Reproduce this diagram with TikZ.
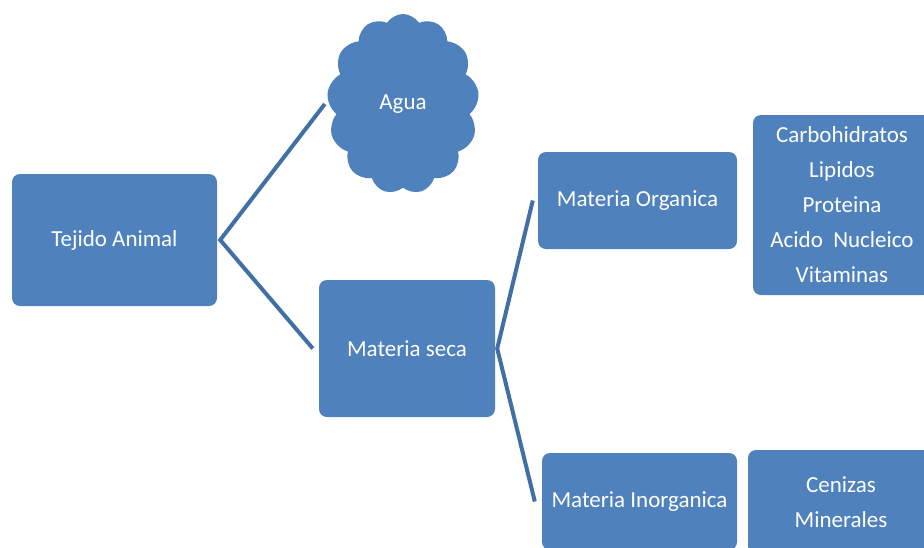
\documentclass[tikz,border=0pt]{standalone}
\usepackage{fontspec}
\setmainfont{Carlito}
\usetikzlibrary{shapes.symbols}
\definecolor{boxblue}{HTML}{4F81BD}
\definecolor{lineblue}{HTML}{416FA6}
\tikzstyle{box} = [rectangle, rounded corners=8pt, fill=boxblue, text=white, align=center, font=\fontsize{23}{35}\selectfont, inner sep=0pt]
\tikzstyle{nube} = [cloud, cloud puffs=13, cloud puff arc=115, aspect=0.8, fill=boxblue, text=white, font=\fontsize{23}{35}\selectfont, inner sep=0pt]
\tikzstyle{linea} = [draw=lineblue, line width=4pt, line join=miter]

\begin{document}
\begin{tikzpicture}[x=1pt, y=-1pt]
\clip (0,0) rectangle (924,547);

\node (tejido) [box, minimum width=205pt, minimum height=132pt] at (114.5,240) {Tejido Animal};
\node (agua) [nube, minimum width=152pt, minimum height=180pt] at (403,104) {Agua};
\node (seca) [box, minimum width=176pt, minimum height=137pt] at (407,348.5) {Materia seca};
\node (organica) [box, minimum width=199pt, minimum height=97pt] at (637.5,200.5) {Materia Organica};
\node (inorganica) [box, minimum width=195pt, minimum height=97pt] at (639.5,501.5) {Materia Inorganica};
\node (lista) [box, minimum width=178pt, minimum height=180pt] at (842,205) {Carbohidratos\\Lipidos\\Proteina\\Acido~~Nucleico\\Vitaminas};
\node (cenizas) [box, minimum width=186pt, minimum height=104pt] at (841,502) {Cenizas\\Minerales};

\draw [linea] ([xshift=-4pt]agua.west) -- ([xshift=3pt]tejido.east) -- ([xshift=-6pt]seca.west);
\draw [linea] ([xshift=-5pt]organica.west) -- ([xshift=2pt]seca.east) -- ([xshift=-7pt]inorganica.west);

\end{tikzpicture}
\end{document}
